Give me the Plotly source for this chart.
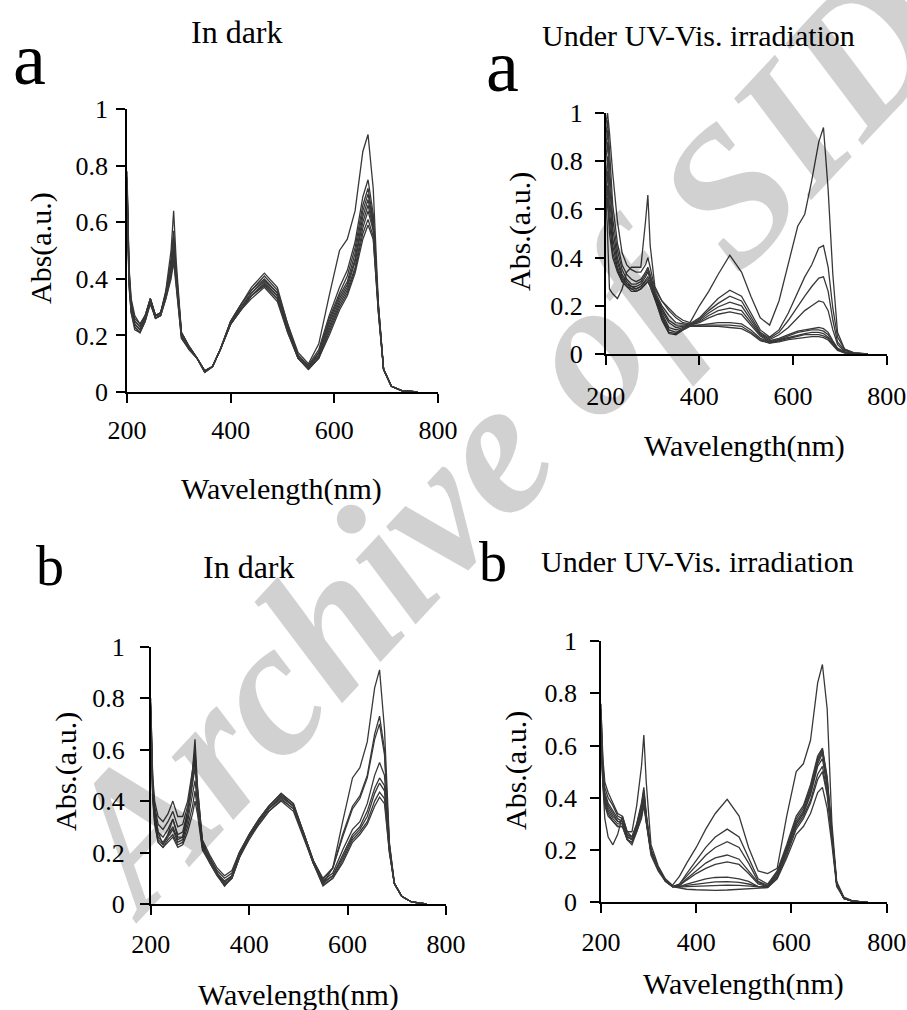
import plotly.graph_objects as go

# ---------------- data ----------------
WL = [200, 204, 208, 215, 225, 235, 245, 255, 265, 275, 285, 290, 295, 305, 320, 335, 350, 365, 380, 400,
      420, 440, 465, 490, 510, 530, 550, 570, 590, 610, 625, 640, 655, 665, 675, 685, 695, 710, 730, 760]

X_TICKS = [200, 400, 600, 800]
Y_TICKS = [0, 0.2, 0.4, 0.6, 0.8, 1]
Y_TICKTEXT = ["0", "0.2", "0.4", "0.6", "0.8", "1"]

# Panel a, in dark
A1 = [0.78,0.44,0.33,0.27,0.24,0.27,0.33,0.27,0.28,0.36,0.50,0.64,0.46,0.21,0.16,0.12,0.075,0.09,0.15,0.25,0.31,0.37,0.42,0.37,0.24,0.14,0.10,0.17,0.34,0.50,0.54,0.64,0.85,0.91,0.72,0.31,0.08,0.02,0.005,0.0]
A2 = [0.76,0.43,0.32,0.26,0.24,0.27,0.33,0.27,0.28,0.35,0.47,0.57,0.43,0.21,0.16,0.12,0.075,0.09,0.15,0.25,0.31,0.36,0.41,0.36,0.24,0.13,0.095,0.15,0.27,0.37,0.43,0.53,0.69,0.75,0.63,0.31,0.08,0.02,0.005,0.0]
A3 = [0.75,0.42,0.31,0.25,0.23,0.27,0.33,0.27,0.28,0.35,0.46,0.55,0.42,0.21,0.16,0.12,0.075,0.09,0.15,0.25,0.31,0.36,0.40,0.35,0.23,0.13,0.09,0.14,0.26,0.35,0.41,0.51,0.66,0.72,0.61,0.30,0.08,0.02,0.005,0.0]
A4 = [0.74,0.41,0.30,0.25,0.23,0.26,0.33,0.27,0.28,0.35,0.45,0.54,0.41,0.21,0.16,0.12,0.075,0.09,0.15,0.25,0.30,0.35,0.395,0.35,0.23,0.13,0.09,0.14,0.25,0.34,0.39,0.49,0.64,0.70,0.60,0.30,0.08,0.02,0.005,0.0]
A5 = [0.73,0.40,0.30,0.24,0.22,0.26,0.33,0.27,0.28,0.34,0.44,0.52,0.40,0.20,0.16,0.12,0.075,0.09,0.15,0.24,0.30,0.35,0.39,0.34,0.22,0.12,0.085,0.13,0.24,0.33,0.38,0.47,0.62,0.68,0.59,0.30,0.08,0.02,0.005,0.0]
A6 = [0.72,0.40,0.29,0.24,0.22,0.26,0.32,0.26,0.28,0.34,0.43,0.51,0.40,0.20,0.15,0.12,0.07,0.09,0.15,0.24,0.30,0.34,0.385,0.34,0.22,0.12,0.085,0.13,0.23,0.32,0.37,0.46,0.60,0.66,0.58,0.29,0.08,0.02,0.005,0.0]
A7 = [0.71,0.39,0.29,0.23,0.21,0.25,0.32,0.26,0.27,0.34,0.42,0.50,0.39,0.20,0.15,0.12,0.07,0.09,0.15,0.24,0.29,0.34,0.38,0.33,0.22,0.12,0.08,0.12,0.22,0.31,0.36,0.44,0.58,0.64,0.57,0.29,0.08,0.02,0.005,0.0]
A8 = [0.70,0.38,0.28,0.23,0.21,0.25,0.32,0.26,0.27,0.33,0.41,0.48,0.38,0.19,0.15,0.12,0.07,0.09,0.15,0.24,0.29,0.34,0.375,0.33,0.21,0.12,0.08,0.12,0.21,0.30,0.35,0.43,0.56,0.61,0.55,0.28,0.08,0.02,0.005,0.0]
A9 = [0.69,0.37,0.28,0.22,0.21,0.25,0.31,0.26,0.27,0.33,0.40,0.46,0.37,0.19,0.15,0.12,0.07,0.09,0.15,0.24,0.29,0.33,0.37,0.32,0.21,0.12,0.08,0.12,0.20,0.29,0.34,0.42,0.54,0.59,0.54,0.28,0.08,0.02,0.005,0.0]

# Panel a, under UV-Vis irradiation
C1 = [0.72,0.50,0.27,0.25,0.23,0.27,0.34,0.36,0.36,0.36,0.55,0.66,0.45,0.28,0.22,0.19,0.16,0.14,0.13,0.20,0.26,0.33,0.41,0.34,0.24,0.15,0.12,0.22,0.38,0.53,0.58,0.72,0.88,0.94,0.68,0.33,0.09,0.02,0.005,0.0]
C2 = [0.95,1.00,0.92,0.75,0.55,0.42,0.37,0.35,0.34,0.34,0.37,0.40,0.36,0.27,0.22,0.18,0.15,0.13,0.125,0.15,0.19,0.23,0.265,0.24,0.17,0.10,0.07,0.10,0.17,0.26,0.32,0.37,0.44,0.45,0.36,0.19,0.07,0.02,0.005,0.0]
C3 = [0.90,0.97,0.85,0.62,0.46,0.37,0.33,0.31,0.30,0.31,0.34,0.36,0.33,0.26,0.20,0.16,0.13,0.125,0.12,0.145,0.18,0.21,0.24,0.22,0.155,0.09,0.065,0.09,0.14,0.20,0.24,0.28,0.315,0.32,0.26,0.14,0.05,0.015,0.004,0.0]
C4 = [0.85,0.93,0.78,0.56,0.43,0.35,0.31,0.29,0.29,0.30,0.33,0.35,0.32,0.25,0.19,0.14,0.12,0.12,0.12,0.14,0.17,0.195,0.215,0.20,0.14,0.085,0.06,0.08,0.11,0.15,0.18,0.20,0.22,0.215,0.18,0.10,0.04,0.01,0.003,0.0]
C5 = [0.80,0.88,0.72,0.52,0.40,0.33,0.30,0.28,0.28,0.29,0.32,0.34,0.31,0.25,0.18,0.13,0.11,0.115,0.12,0.135,0.16,0.18,0.19,0.18,0.13,0.08,0.055,0.065,0.08,0.095,0.10,0.105,0.11,0.105,0.09,0.055,0.025,0.008,0.002,0.0]
C6 = [0.70,0.82,0.66,0.48,0.38,0.32,0.29,0.28,0.27,0.28,0.31,0.32,0.30,0.24,0.17,0.11,0.10,0.11,0.12,0.13,0.15,0.165,0.175,0.165,0.12,0.075,0.05,0.06,0.075,0.09,0.095,0.10,0.10,0.095,0.08,0.05,0.02,0.007,0.002,0.0]
C7 = [0.65,0.76,0.60,0.45,0.36,0.31,0.29,0.27,0.27,0.28,0.30,0.31,0.29,0.24,0.16,0.10,0.09,0.105,0.12,0.12,0.125,0.13,0.13,0.125,0.10,0.065,0.05,0.06,0.07,0.08,0.085,0.09,0.09,0.085,0.07,0.045,0.02,0.006,0.002,0.0]
C8 = [0.60,0.70,0.55,0.42,0.35,0.30,0.28,0.27,0.26,0.27,0.29,0.30,0.28,0.23,0.15,0.09,0.085,0.10,0.115,0.12,0.12,0.12,0.12,0.115,0.09,0.06,0.045,0.055,0.065,0.075,0.08,0.08,0.08,0.075,0.065,0.04,0.018,0.005,0.002,0.0]
C9 = [0.55,0.65,0.50,0.40,0.34,0.30,0.28,0.26,0.26,0.27,0.29,0.30,0.28,0.23,0.14,0.085,0.08,0.10,0.115,0.115,0.115,0.115,0.11,0.105,0.085,0.055,0.045,0.05,0.06,0.065,0.07,0.072,0.072,0.068,0.058,0.035,0.015,0.005,0.001,0.0]

# Panel b, in dark
D1 = [0.80,0.48,0.36,0.28,0.23,0.27,0.33,0.26,0.26,0.36,0.52,0.64,0.46,0.24,0.18,0.12,0.07,0.11,0.19,0.27,0.33,0.38,0.43,0.39,0.28,0.17,0.08,0.14,0.32,0.49,0.53,0.63,0.84,0.91,0.68,0.24,0.08,0.03,0.008,0.0]
D2 = [0.78,0.50,0.40,0.34,0.32,0.35,0.40,0.34,0.34,0.40,0.52,0.60,0.45,0.25,0.19,0.14,0.11,0.13,0.20,0.27,0.33,0.38,0.43,0.39,0.28,0.17,0.10,0.14,0.27,0.38,0.42,0.50,0.66,0.73,0.60,0.23,0.08,0.03,0.008,0.0]
D3 = [0.77,0.48,0.38,0.31,0.29,0.32,0.36,0.30,0.31,0.38,0.50,0.58,0.44,0.24,0.18,0.13,0.10,0.12,0.20,0.27,0.33,0.38,0.425,0.38,0.28,0.17,0.095,0.14,0.26,0.37,0.41,0.49,0.64,0.70,0.58,0.23,0.08,0.03,0.008,0.0]
D4 = [0.76,0.46,0.36,0.28,0.26,0.29,0.33,0.27,0.28,0.36,0.48,0.56,0.43,0.23,0.18,0.12,0.09,0.11,0.19,0.26,0.32,0.37,0.42,0.38,0.28,0.17,0.09,0.12,0.21,0.29,0.32,0.39,0.50,0.55,0.50,0.22,0.08,0.03,0.008,0.0]
D5 = [0.75,0.44,0.34,0.26,0.24,0.27,0.30,0.25,0.26,0.34,0.46,0.53,0.42,0.23,0.17,0.12,0.085,0.11,0.19,0.26,0.32,0.37,0.415,0.38,0.27,0.16,0.085,0.11,0.19,0.27,0.30,0.36,0.45,0.49,0.46,0.21,0.08,0.03,0.008,0.0]
D6 = [0.74,0.43,0.33,0.25,0.23,0.26,0.29,0.24,0.25,0.32,0.42,0.48,0.39,0.22,0.17,0.12,0.08,0.10,0.18,0.26,0.32,0.37,0.41,0.37,0.27,0.16,0.08,0.11,0.18,0.26,0.29,0.34,0.43,0.47,0.44,0.21,0.08,0.03,0.008,0.0]
D7 = [0.73,0.42,0.32,0.24,0.22,0.25,0.27,0.23,0.24,0.30,0.38,0.44,0.37,0.22,0.16,0.11,0.075,0.10,0.18,0.26,0.31,0.36,0.405,0.37,0.27,0.16,0.075,0.10,0.17,0.25,0.28,0.32,0.40,0.435,0.41,0.20,0.08,0.03,0.008,0.0]
D8 = [0.72,0.41,0.31,0.24,0.22,0.24,0.26,0.22,0.23,0.28,0.35,0.40,0.35,0.21,0.16,0.11,0.07,0.10,0.18,0.25,0.31,0.36,0.40,0.36,0.26,0.16,0.07,0.10,0.16,0.24,0.27,0.31,0.38,0.415,0.39,0.20,0.08,0.03,0.008,0.0]

# Panel b, under UV-Vis irradiation
E1 = [0.76,0.45,0.32,0.25,0.22,0.26,0.33,0.27,0.27,0.37,0.52,0.64,0.46,0.22,0.14,0.09,0.065,0.10,0.15,0.21,0.28,0.34,0.394,0.33,0.21,0.12,0.11,0.13,0.33,0.50,0.53,0.62,0.84,0.91,0.74,0.30,0.08,0.02,0.005,0.0]
E2 = [0.74,0.55,0.46,0.42,0.38,0.34,0.33,0.27,0.25,0.30,0.38,0.44,0.34,0.20,0.13,0.085,0.06,0.07,0.11,0.16,0.21,0.25,0.28,0.25,0.17,0.09,0.07,0.12,0.22,0.33,0.37,0.45,0.56,0.59,0.48,0.27,0.07,0.015,0.004,0.0]
E3 = [0.72,0.53,0.44,0.40,0.37,0.33,0.32,0.26,0.25,0.30,0.37,0.43,0.33,0.20,0.13,0.085,0.06,0.07,0.10,0.14,0.18,0.21,0.232,0.21,0.15,0.08,0.065,0.115,0.21,0.32,0.36,0.44,0.55,0.585,0.47,0.26,0.07,0.015,0.004,0.0]
E4 = [0.70,0.51,0.42,0.38,0.35,0.32,0.31,0.26,0.24,0.29,0.36,0.42,0.33,0.20,0.13,0.085,0.06,0.065,0.09,0.12,0.15,0.17,0.181,0.165,0.12,0.075,0.062,0.11,0.21,0.31,0.35,0.43,0.54,0.58,0.46,0.26,0.07,0.015,0.004,0.0]
E5 = [0.68,0.50,0.41,0.37,0.34,0.31,0.31,0.25,0.24,0.29,0.36,0.41,0.32,0.20,0.13,0.085,0.06,0.065,0.085,0.11,0.13,0.145,0.155,0.145,0.11,0.07,0.06,0.11,0.20,0.30,0.34,0.42,0.53,0.57,0.45,0.25,0.07,0.015,0.004,0.0]
E6 = [0.66,0.48,0.40,0.36,0.33,0.31,0.30,0.25,0.24,0.28,0.35,0.40,0.32,0.19,0.13,0.085,0.06,0.06,0.07,0.08,0.09,0.095,0.096,0.09,0.08,0.06,0.06,0.10,0.20,0.30,0.34,0.41,0.52,0.55,0.44,0.25,0.07,0.015,0.004,0.0]
E7 = [0.64,0.47,0.39,0.35,0.32,0.30,0.30,0.24,0.23,0.28,0.34,0.39,0.31,0.19,0.13,0.085,0.06,0.06,0.065,0.07,0.075,0.078,0.079,0.076,0.07,0.06,0.058,0.10,0.19,0.29,0.33,0.39,0.49,0.52,0.42,0.24,0.07,0.015,0.004,0.0]
E8 = [0.62,0.46,0.38,0.34,0.31,0.29,0.29,0.24,0.23,0.27,0.33,0.38,0.31,0.19,0.13,0.08,0.06,0.058,0.06,0.062,0.064,0.066,0.066,0.065,0.062,0.058,0.057,0.095,0.18,0.28,0.32,0.38,0.47,0.50,0.41,0.24,0.07,0.015,0.004,0.0]
E9 = [0.60,0.45,0.37,0.33,0.31,0.29,0.29,0.24,0.22,0.27,0.32,0.37,0.30,0.18,0.12,0.08,0.06,0.055,0.05,0.048,0.046,0.046,0.047,0.05,0.052,0.055,0.056,0.09,0.17,0.26,0.29,0.34,0.42,0.44,0.36,0.22,0.06,0.015,0.004,0.0]

PANELS = [
    {"curves": [A1, A2, A3, A4, A5, A6, A7, A8, A9]},
    {"curves": [C1, C2, C3, C4, C5, C6, C7, C8, C9]},
    {"curves": [D1, D2, D3, D4, D5, D6, D7, D8]},
    {"curves": [E1, E2, E3, E4, E5, E6, E7, E8, E9]},
]

# ---------------- layout geometry (pixels) ----------------
W, H = 907, 1010
# (x_left, x_right, y_top, y_bottom) of each plot area
BOXES = [(127, 438, 109, 392), (605.7, 886.7, 113, 354), (150.7, 446, 646.7, 904), (601, 886.7, 641, 902.3)]
YSTAND = [3, 7, 10, 8]
XSTAND = [5, 9, 7, 7]

FONT = "Liberation Serif"
LINE_COLOR = "#383838"

fig = go.Figure()
layout = dict(
    width=W, height=H, margin=dict(l=0, r=0, t=0, b=0, autoexpand=False),
    paper_bgcolor="white", plot_bgcolor="white", showlegend=False,
    font=dict(family=FONT, color="black"),
)

for i, (p, box) in enumerate(zip(PANELS, BOXES)):
    n = "" if i == 0 else str(i + 1)
    xl, xr, yt, yb = box
    for c in p["curves"]:
        fig.add_trace(go.Scatter(x=WL, y=c, mode="lines", xaxis="x" + n, yaxis="y" + n,
                                 line=dict(color=LINE_COLOR, width=1.3), hoverinfo="skip"))
    layout["xaxis" + n] = dict(
        domain=[xl / W, xr / W], anchor="y" + n, range=[200, 800], automargin=False,
        tickvals=X_TICKS, ticks="outside", ticklen=9, tickwidth=1.5, tickcolor="black",
        showline=True, linecolor="black", linewidth=1.5, showgrid=False, zeroline=False,
        tickfont=dict(size=26, family=FONT, color="black"), ticklabelstandoff=XSTAND[i],
    )
    layout["yaxis" + n] = dict(
        domain=[1 - yb / H, 1 - yt / H], anchor="x" + n, range=[0, 1], automargin=False,
        tickvals=Y_TICKS, ticktext=Y_TICKTEXT, ticks="outside", ticklen=9, tickwidth=1.5,
        tickcolor="black", showline=True, linecolor="black", linewidth=1.5,
        showgrid=False, zeroline=False,
        tickfont=dict(size=26, family=FONT, color="black"), ticklabelstandoff=YSTAND[i],
    )

def ann(text, px, py, size, angle=0, color="black", **fontkw):
    return dict(text=text, x=px / W, y=1 - py / H, xref="paper", yref="paper",
                xanchor="center", yanchor="middle", showarrow=False, textangle=angle,
                font=dict(family=FONT, size=size, color=color, **fontkw))

annotations = [
    # watermark
    ann("Archive of SID", 500, 440, 192, -47, "rgba(0,0,0,0.18)", weight="bold", style="italic"),
    # titles and panel letters
    ann("In dark", 237, 32, 32),
    ann("a", 29, 59, 74),
    ann("Under UV-Vis. irradiation", 698, 35, 30),
    ann("a", 503, 66, 74),
    ann("In dark", 249, 567, 32),
    ann("b", 50, 566, 56),
    ann("Under UV-Vis. irradiation", 697, 561, 30),
    ann("b", 493, 562, 56),
    # axis titles
    ann("Wavelength(nm)", 281, 489, 30),
    ann("Abs(a.u.)", 41, 248, 30, -90),
    ann("Wavelength(nm)", 744, 446, 30),
    ann("Abs.(a.u.)", 520, 232, 30, -90),
    ann("Wavelength(nm)", 298, 995, 30),
    ann("Abs.(a.u.)", 66, 772, 30, -90),
    ann("Wavelength(nm)", 743, 984, 30),
    ann("Abs.(a.u.)", 516, 771, 30, -90),
]
layout["annotations"] = annotations
fig.update_layout(**layout)
fig.write_html("out.html", config={"displayModeBar": False},
               post_script="document.body.style.margin='0';document.body.style.overflow='hidden';")
